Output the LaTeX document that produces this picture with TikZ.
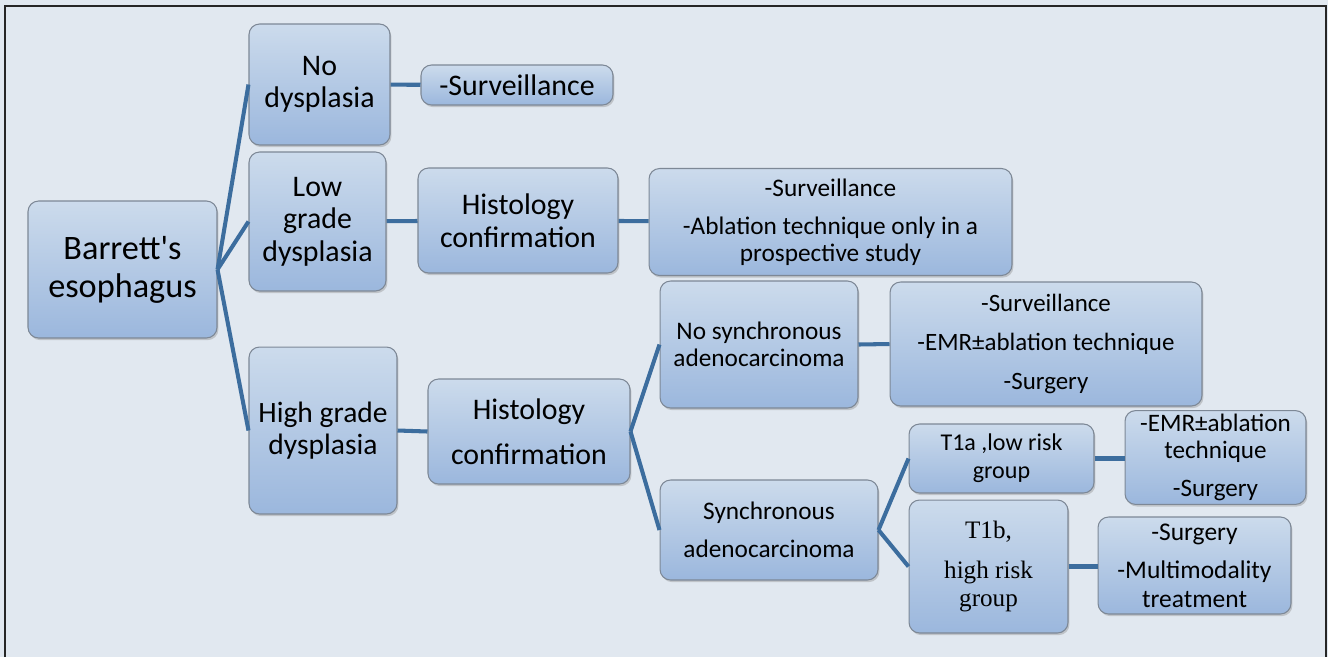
\documentclass[tikz,border=0pt]{standalone}
\usepackage{fontspec}
\setmainfont{Carlito}
\newfontfamily\TimesLike{Liberation Serif}
\usepackage{tikz}
\usetikzlibrary{shadows}
\usepackage{xcolor}
\usetikzlibrary{backgrounds}
\usetikzlibrary{arrows.meta,positioning,calc}
\definecolor{PageBackground}{HTML}{E1E8F0}
\definecolor{BoxTop}{HTML}{CCDBEC}
\definecolor{BoxBottom}{HTML}{9BB7DD}
\definecolor{BoxBorder}{HTML}{7D8896}
\definecolor{BranchLine}{HTML}{3C6D9E}
\tikzstyle{TreeBox} =[draw=BoxBorder,top color=BoxTop,bottom color=BoxBottom,rounded corners=6pt,align=center,inner sep=2pt,drop shadow={shadow xshift=0.8pt,shadow yshift=-1.2pt,opacity=0.35}]
\tikzstyle{Branch} =[draw=BranchLine,line width=2.3pt]
\tikzstyle{FrameLine} =[draw=black!85,line width=1.6pt]

\begin{document}
\begin{tikzpicture}[x=0.02cm,y=-0.02cm,semithick]
    \fill[PageBackground] (0,0) rectangle (1328,657);
    \useasboundingbox (0,0) rectangle (1328,657);
    \draw[FrameLine] (5,657) -- (5,6) -- (1326,6) -- (1326,657);

    % first level
    \node[TreeBox,minimum width=3.78cm,minimum height=2.74cm,font=\fontsize{19.5}{21.5}\selectfont](Barretts-Esophagus) at (122.5,269.5){Barrett\textquotesingle s\\esophagus};
    \node[TreeBox,minimum width=2.82cm,minimum height=2.42cm,font=\fontsize{17}{18.5}\selectfont](No-Dysplasia) at (319.5,84.5){No\\dysplasia};
    \node[TreeBox,minimum width=2.74cm,minimum height=2.78cm,font=\fontsize{17}{18.5}\selectfont](Low-Grade-Dysplasia) at (317.5,221.5){Low\\grade\\dysplasia};
    \node[TreeBox,minimum width=2.96cm,minimum height=3.34cm,font=\fontsize{16.8}{18.5}\selectfont](High-Grade-Dysplasia) at (323,430.5){High grade\\dysplasia};

    % second level
    \node[TreeBox,minimum width=3.84cm,minimum height=0.8cm,font=\fontsize{17}{18}\selectfont](Surveillance-Only) at (517,85){-Surveillance};
    \node[TreeBox,minimum width=4cm,minimum height=2.1cm,font=\fontsize{17}{18.5}\selectfont](Histology-Low) at (518,220.5){Histology\\confirmation};
    \node[TreeBox,minimum width=7.26cm,minimum height=2.14cm,font=\fontsize{14.4}{15.5}\selectfont](Ablation-Study) at (830.5,222){-Surveillance\\[6pt]-Ablation technique only in a\\prospective study};
    \node[TreeBox,minimum width=4.04cm,minimum height=2.1cm,font=\fontsize{17}{25.5}\selectfont](Histology-High) at (529,431.5){Histology\\confirmation};

    % high grade branch
    \node[TreeBox,minimum width=3.96cm,minimum height=2.54cm,font=\fontsize{14.4}{15.5}\selectfont](No-Synchronous) at (759,344.5){No synchronous\\adenocarcinoma};
    \node[TreeBox,minimum width=6.24cm,minimum height=2.48cm,font=\fontsize{14.2}{22}\selectfont](Surveillance-EMR-Surgery) at (1046,344){-Surveillance\\-EMR±ablation technique\\-Surgery};
    \node[TreeBox,minimum width=4.36cm,minimum height=2cm,font=\fontsize{14.4}{21.5}\selectfont](Synchronous) at (769,530){Synchronous\\adenocarcinoma};
    \node[TreeBox,minimum width=3.7cm,minimum height=1.38cm,font=\fontsize{13.7}{16}\selectfont](T1a-Low-Risk) at (1001.5,458.5){T1a ,low risk\\group};
    \node[TreeBox,minimum width=3.62cm,minimum height=1.82cm,font=\fontsize{14.3}{15.5}\selectfont](EMR-Surgery) at (1215.5,457.5){-EMR±ablation\\technique\\[6pt]-Surgery};
    \node[TreeBox,minimum width=3.18cm,minimum height=2.66cm,font=\TimesLike\fontsize{14.3}{16}\selectfont](T1b-High-Risk) at (988.5,566.5){T1b,\\[7pt]high risk\\group};
    \node[TreeBox,minimum width=3.86cm,minimum height=1.94cm,font=\fontsize{14.5}{16}\selectfont](Surgery-Multimodality) at (1194.5,565.5){-Surgery\\[6pt]-Multimodality\\treatment};

    \draw[Branch] (Barretts-Esophagus.east) -- (No-Dysplasia.west);
    \draw[Branch] (Barretts-Esophagus.east) -- (Low-Grade-Dysplasia.west);
    \draw[Branch] (Barretts-Esophagus.east) -- (High-Grade-Dysplasia.west);
    \draw[Branch] (No-Dysplasia) -- (Surveillance-Only);
    \draw[Branch] (Low-Grade-Dysplasia) -- (Histology-Low);
    \draw[Branch] (Histology-Low) -- (Ablation-Study);
    \draw[Branch] (High-Grade-Dysplasia.east) -- (Histology-High.west);
    \draw[Branch] (Histology-High.east) -- (No-Synchronous.west);
    \draw[Branch] (Histology-High.east) -- (Synchronous.west);
    \draw[Branch] (No-Synchronous.east) -- (Surveillance-EMR-Surgery.west);
    \draw[Branch] (Synchronous.east) -- (T1a-Low-Risk.west);
    \draw[Branch] (Synchronous.east) -- (T1b-High-Risk.west);
    \draw[Branch] (T1a-Low-Risk.east) -- (EMR-Surgery.west |- T1a-Low-Risk.east);
    \draw[Branch] (T1b-High-Risk.east) -- (Surgery-Multimodality.west |- T1b-High-Risk.east);
\end{tikzpicture}
\end{document}
